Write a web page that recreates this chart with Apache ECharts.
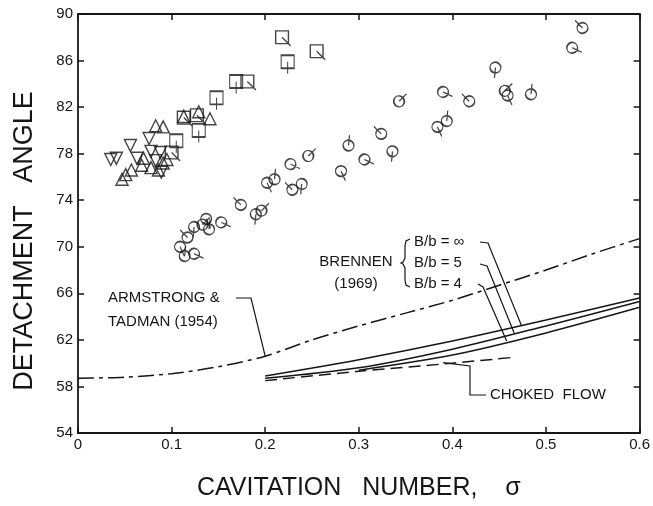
<!DOCTYPE html>
<html>
<head>
<meta charset="utf-8">
<script src="https://cdn.jsdelivr.net/npm/echarts@6/dist/echarts.min.js"></script>
<style>
  html, body { margin: 0; background: #fff; }
  #chart { width: 653px; height: 506px; }
</style>
</head>
<body>
<div id="chart"></div>
<script>
// measured points, [sigma, detachment angle]
const circles = [
  [0.109, 70.0], [0.114, 69.2], [0.124, 69.4], [0.117, 70.8], [0.124, 71.7],
  [0.133, 71.9], [0.137, 72.4], [0.140, 71.5], [0.153, 72.1], [0.174, 73.6],
  [0.190, 72.8], [0.196, 73.1], [0.202, 75.5], [0.210, 75.8], [0.227, 77.1],
  [0.229, 74.9], [0.239, 75.4], [0.246, 77.8], [0.281, 76.5], [0.289, 78.7],
  [0.306, 77.5], [0.324, 79.7], [0.336, 78.2], [0.343, 82.5], [0.384, 80.3],
  [0.394, 80.8], [0.390, 83.3], [0.418, 82.5], [0.446, 85.4], [0.456, 83.4],
  [0.459, 83.0], [0.484, 83.1], [0.528, 87.1], [0.539, 88.8]
];
const squares = [
  [0.218, 88.0], [0.224, 85.9], [0.255, 86.8], [0.169, 84.2], [0.181, 84.2],
  [0.148, 82.8], [0.127, 81.3], [0.129, 80.0], [0.113, 81.1], [0.105, 79.1],
  [0.100, 78.1]
];
const triangles = [
  [0.129, 81.6], [0.141, 81.0], [0.091, 80.3], [0.083, 80.4], [0.113, 81.2],
  [0.095, 77.5], [0.078, 76.8], [0.068, 77.0], [0.057, 76.6], [0.051, 76.2],
  [0.047, 75.8], [0.086, 76.6], [0.091, 77.2], [0.070, 77.6]
];
const invTriangles = [
  [0.076, 79.3], [0.056, 78.7], [0.035, 77.5], [0.041, 77.6], [0.063, 77.6],
  [0.078, 78.2], [0.088, 78.1], [0.083, 77.4], [0.089, 76.4]
];

// theory curves
const armstrong = [
  [0, 58.7], [0.05, 58.8], [0.1, 59.1], [0.15, 59.7], [0.2, 60.6], [0.25, 62.0],
  [0.3, 63.2], [0.35, 64.3], [0.4, 65.4], [0.45, 66.7], [0.5, 68.0], [0.55, 69.4], [0.6, 70.7]
];
const brennenInf = [[0.2, 58.9], [0.3, 60.3], [0.4, 61.9], [0.5, 63.7], [0.6, 65.6]];
const brennen5 = [[0.2, 58.7], [0.3, 59.6], [0.4, 61.2], [0.5, 63.2], [0.6, 65.3]];
const brennen4 = [[0.3, 59.4], [0.4, 60.7], [0.5, 62.6], [0.6, 64.8]];
const choked = [[0.2, 58.5], [0.3, 59.3], [0.4, 60.0], [0.465, 60.5]];

const xTicks = [0, 0.1, 0.2, 0.3, 0.4, 0.5, 0.6];
const yTicks = [54, 58, 62, 66, 70, 74, 78, 82, 86, 90];

const ink = '#161616';
const font = 'Liberation Sans, Arial, Helvetica, sans-serif';

const chart = echarts.init(document.getElementById('chart'));

const hollow = { color: 'rgba(0,0,0,0)', borderColor: ink, borderWidth: 1.4 };
const circleTail = 'path://M-4 -9M5 0A5 5 0 1 1 -5 0A5 5 0 1 1 5 0ZM0 0L4 9';
const squareDown = 'path://M0 -11M-6 -6H6V6H-6ZM0 0L0 11';
const squareSlant = 'path://M-8 -8M-6 -6H6V6H-6ZM0 0L8 8';
const turns = [0, 150, 40, 200, -30, 110];

const boxLine = { show: true, onZero: false, lineStyle: { color: ink, width: 1.8 } };
const tick = { show: true, inside: true, length: 6, lineStyle: { color: ink, width: 1.5 } };
const xBase = { type: 'value', min: xTicks[0], max: xTicks[xTicks.length - 1], interval: 0.1,
  axisLine: boxLine, axisTick: tick, splitLine: { show: false } };
const yBase = { type: 'value', min: yTicks[0], max: yTicks[yTicks.length - 1], interval: 4,
  axisLine: boxLine, axisTick: tick, splitLine: { show: false } };

function lineSeries(data, type) {
  return {
    type: 'line', data: data, smooth: 0.3, symbol: 'none', silent: true,
    lineStyle: { color: ink, width: 1.5, type: type }
  };
}

chart.setOption({
  animation: false,
  backgroundColor: '#fff',
  grid: { left: 78, right: 11, top: 14, bottom: 68 },
  xAxis: [
    Object.assign({}, xBase, {
      position: 'bottom',
      axisLabel: { color: ink, fontSize: 15, fontFamily: font, margin: 4,
        formatter: v => (v === 0 ? '0' : v.toFixed(1)) },
      name: 'CAVITATION   NUMBER,    σ', nameLocation: 'middle', nameGap: 43,
      nameTextStyle: { color: ink, fontSize: 25, fontFamily: font }
    }),
    Object.assign({}, xBase, { position: 'top', axisLabel: { show: false } })
  ],
  yAxis: [
    Object.assign({}, yBase, {
      position: 'left',
      axisLabel: { color: ink, fontSize: 15, fontFamily: font, margin: 5 }
    }),
    Object.assign({}, yBase, { position: 'right', axisLabel: { show: false } })
  ],
  series: [
    lineSeries(armstrong, [16, 5, 4, 5]),
    lineSeries(brennenInf, 'solid'),
    lineSeries(brennen5, 'solid'),
    lineSeries(brennen4, 'solid'),
    lineSeries(choked, [12, 6]),
    {
      type: 'scatter', symbol: circleTail, symbolSize: [11, 19],
      itemStyle: hollow,
      data: circles.map((p, i) => ({ value: p, symbolRotate: turns[i % turns.length] }))
    },
    {
      type: 'scatter', symbolSize: [13, 24],
      itemStyle: hollow,
      data: squares.map((p, i) => ({ value: p, symbol: i % 2 ? squareDown : squareSlant,
        symbolSize: i % 2 ? [13, 24] : [17, 17] }))
    },
    { type: 'scatter', symbol: 'triangle', symbolSize: 12, itemStyle: hollow, data: triangles },
    { type: 'scatter', symbol: 'triangle', symbolSize: 12, symbolRotate: 180, itemStyle: hollow, data: invTriangles }
  ]
});

// annotations, anchored on the curves
const px = p => chart.convertToPixel({ xAxisIndex: 0, yAxisIndex: 0 }, p);
function label(text, x, y, size, align) {
  return { type: 'text', x: x, y: y, silent: true,
    style: { text: text, fill: ink, fontSize: size, fontFamily: font,
      align: align || 'left', verticalAlign: 'middle' } };
}
function leader(points) {
  return { type: 'polyline', silent: true, shape: { points: points },
    style: { stroke: ink, lineWidth: 1.2, fill: null } };
}

const aTip = px([0.2, 60.6]);
const cTip = px([0.39, 60.05]);
const bInf = px([0.474, 63.2]);
const b5 = px([0.466, 62.6]);
const b4 = px([0.458, 61.9]);

chart.setOption({
  graphic: [
    { type: 'text', x: 25, y: 241, rotation: Math.PI / 2, silent: true,
      style: { text: 'DETACHMENT   ANGLE', fill: ink, fontSize: 27, fontFamily: font,
        align: 'center', verticalAlign: 'middle' } },
    label('ARMSTRONG &', 108, 298, 15),
    label('TADMAN (1954)', 108, 322, 15),
    leader([[236, 298], [251, 298], aTip]),
    label('BRENNEN', 356, 262, 15, 'center'),
    label('(1969)', 356, 284, 15, 'center'),
    leader([[410, 239], [406, 241], [405, 246], [405, 258], [403, 262], [401, 263],
      [403, 264], [405, 268], [405, 280], [406, 285], [410, 287]]),
    label('B/b = ∞', 414, 242, 15),
    label('B/b = 5', 414, 263, 15),
    label('B/b = 4', 414, 284, 15),
    leader([[480, 242], [488, 243], bInf]),
    leader([[480, 264], [487, 266], b5]),
    leader([[478, 284], [483, 287], b4]),
    label('CHOKED  FLOW', 490, 395, 15),
    leader([cTip, [470, 366], [470, 395], [486, 395]])
  ]
});
</script>
</body>
</html>
